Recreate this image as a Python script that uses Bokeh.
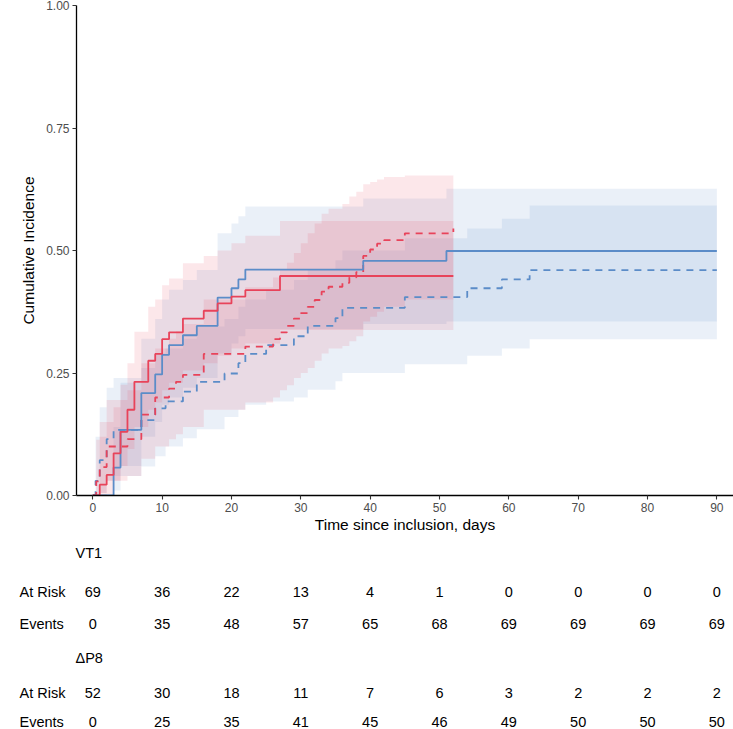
import numpy as np
from bokeh.plotting import figure
from bokeh.layouts import column
from bokeh.models import Range1d, NumeralTickFormatter, FixedTicker
from bokeh.embed import file_html
from bokeh.resources import INLINE
from bokeh.core.properties import value

# ---------------- data ----------------
# VT1, event 1 (solid red)
vt1_e1_t   = [0, 1, 2, 3, 4, 5, 6, 8, 9, 10, 11, 13, 16, 18, 20, 22, 27, 52]
vt1_e1_est = [0, .022, .042, .086, .130, .175, .232, .275, .289, .319, .333, .361, .377, .392, .406, .419, .448, .448]
vt1_e1_hi  = [0, .120, .150, .180, .226, .270, .334, .385, .400, .429, .443, .474, .489, .500, .515, .530, .560, .560]
vt1_e1_lo  = [0, 0, .003, .030, .060, .095, .140, .175, .190, .215, .230, .255, .270, .285, .300, .310, .338, .338]

# VT1, event 2 (dashed red)
vt1_e2_t   = [0, 0.5, 1, 2, 5, 7, 9, 11, 12, 13, 16, 22, 26, 27, 28, 29, 30, 31, 32, 33, 34, 36, 37, 38, 39, 40, 41, 42, 45, 52]
vt1_e2_est = [0, .029, .058, .100, .115, .165, .200, .218, .232, .246, .289, .304, .319, .333, .346, .361, .372, .385, .399, .416, .426, .434, .445, .456, .489, .502, .514, .521, .535, .545]
vt1_e2_hi  = [0, .114, .150, .195, .215, .270, .300, .320, .335, .350, .400, .425, .445, .460, .475, .495, .515, .535, .555, .575, .585, .595, .610, .620, .635, .640, .645, .650, .653, .653]
vt1_e2_lo  = [0, 0, .005, .030, .040, .075, .100, .115, .125, .140, .175, .190, .200, .215, .225, .240, .250, .260, .275, .290, .300, .305, .315, .325, .355, .365, .375, .385, .400, .410]

# dP8, event 1 (solid blue)
dp8_e1_t   = [0, 3, 4, 7, 9, 10, 11, 13, 15, 18, 20, 21, 22, 39, 51, 90]
dp8_e1_est = [0, .057, .134, .209, .247, .287, .307, .327, .346, .404, .423, .441, .461, .479, .499, .499]
dp8_e1_hi  = [0, .140, .230, .320, .360, .400, .420, .440, .460, .535, .555, .570, .590, .606, .626, .626]
dp8_e1_lo  = [0, .010, .060, .120, .150, .185, .200, .220, .240, .290, .310, .325, .340, .350, .355, .355]

# dP8, event 2 (dashed blue)
dp8_e2_t   = [0, 0.4, 1, 2, 3, 7, 9, 10.5, 13, 15, 19, 21, 22, 25, 29, 31, 35, 36, 45, 54, 59, 63, 90]
dp8_e2_est = [0, .030, .072, .115, .134, .154, .178, .192, .212, .232, .249, .270, .289, .307, .325, .346, .362, .383, .405, .423, .441, .460, .460]
dp8_e2_hi  = [0, .120, .180, .220, .240, .260, .290, .300, .320, .345, .360, .385, .400, .420, .440, .460, .480, .500, .525, .545, .565, .592, .592]
dp8_e2_lo  = [0, 0, .005, .030, .040, .059, .080, .100, .117, .135, .160, .175, .185, .192, .200, .216, .233, .250, .268, .285, .300, .319, .319]

# risk table
table_times   = [0, 10, 20, 30, 40, 50, 60, 70, 80, 90]
vt1_at_risk   = [69, 36, 22, 13, 4, 1, 0, 0, 0, 0]
vt1_events    = [0, 35, 48, 57, 65, 68, 69, 69, 69, 69]
dp8_at_risk   = [52, 30, 18, 11, 7, 6, 3, 2, 2, 2]
dp8_events    = [0, 25, 35, 41, 45, 46, 49, 50, 50, 50]
group_names   = ["VT1", "\u0394P8"]
row_names     = ["At Risk", "Events"]

# ---------------- style ----------------
RED = "#E8435A"
BLUE = "#5B8CC8"
FONT = "Liberation Sans"
BAND_ALPHA = 0.13

W = 733
H1 = 535
H2 = 194
LEFT = 76
X0, X1 = -2.35, 92.4

xr = Range1d(X0, X1)
p = figure(width=W, height=H1, output_backend="svg", toolbar_location=None,
           x_range=xr, y_range=Range1d(0, 1),
           min_border_left=LEFT, min_border_right=0, min_border_top=5, min_border_bottom=39)
p.outline_line_color = None
p.xgrid.visible = False
p.ygrid.visible = False
p.background_fill_color = "white"

def band(t, lo, hi, color):
    p.varea_step(x=t, y1=lo, y2=hi, step_mode="after", fill_color=color, fill_alpha=BAND_ALPHA)

band(dp8_e2_t, dp8_e2_lo, dp8_e2_hi, BLUE)
band(dp8_e1_t, dp8_e1_lo, dp8_e1_hi, BLUE)
band(vt1_e2_t, vt1_e2_lo, vt1_e2_hi, RED)
band(vt1_e1_t, vt1_e1_lo, vt1_e1_hi, RED)

p.step(dp8_e2_t, dp8_e2_est, mode="after", line_color=BLUE, line_width=1.8, line_dash="7 6")
p.step(vt1_e2_t, vt1_e2_est, mode="after", line_color=RED, line_width=1.8, line_dash="7 6")
p.step(dp8_e1_t, dp8_e1_est, mode="after", line_color=BLUE, line_width=1.8)
p.step(vt1_e1_t, vt1_e1_est, mode="after", line_color=RED, line_width=1.8)

for ax in (p.xaxis[0], p.yaxis[0]):
    ax.axis_line_color = "black"
    ax.axis_line_width = 1.3
    ax.major_tick_line_color = "#333333"
    ax.major_tick_line_width = 1.1
    ax.major_tick_out = 4
    ax.major_tick_in = 0
    ax.minor_tick_line_color = None
    ax.major_label_text_font = FONT
    ax.major_label_text_font_size = "12px"
    ax.major_label_text_color = "#4D4D4D"
    ax.axis_label_text_font = FONT
    ax.axis_label_text_font_size = "15.5px"
    ax.axis_label_text_font_style = "normal"
    ax.axis_label_text_color = "black"

p.xaxis.ticker = FixedTicker(ticks=table_times)
p.yaxis.ticker = FixedTicker(ticks=[0, 0.25, 0.5, 0.75, 1.0])
p.yaxis.formatter = NumeralTickFormatter(format="0.00")
p.xaxis.axis_label = "Time since inclusion, days"
p.yaxis.axis_label = "Cumulative Incidence"
p.xaxis.major_label_standoff = 3
p.xaxis.axis_label_standoff = 1
p.yaxis.major_label_standoff = 3
p.yaxis.axis_label_standoff = 6

# ---------------- risk table ----------------
px_per_day = (W - LEFT) / (X1 - X0)
q = figure(width=W, height=H2, output_backend="svg", toolbar_location=None,
           x_range=xr, y_range=Range1d(H2, 0),
           min_border_left=LEFT, min_border_right=0, min_border_top=0, min_border_bottom=0)
q.outline_line_color = None
q.xgrid.visible = False
q.ygrid.visible = False
q.xaxis.visible = False
q.yaxis.visible = False

row_y = {"g0": 17, "r0": 56, "e0": 88, "g1": 122, "r1": 157, "e1": 186}
label_x = X0 - (LEFT - 19) / px_per_day
group_x = X0 - (LEFT - 75) / px_per_day
TS = "14.5px"

def txt(xs, ys, texts, align):
    r = q.text(x=xs, y=ys, text=texts, text_font=value(FONT), text_font_size=TS,
               text_align=align, text_baseline="middle", text_color="black")
    r.level = "overlay"

for gi, (name, ar, ev) in enumerate([(group_names[0], vt1_at_risk, vt1_events),
                                     (group_names[1], dp8_at_risk, dp8_events)]):
    txt([group_x], [row_y[f"g{gi}"]], [name], "left")
    txt([label_x, label_x], [row_y[f"r{gi}"], row_y[f"e{gi}"]], row_names, "left")
    txt(table_times, [row_y[f"r{gi}"]] * len(table_times), [str(v) for v in ar], "center")
    txt(table_times, [row_y[f"e{gi}"]] * len(table_times), [str(v) for v in ev], "center")

layout = column(p, q, spacing=0)
open("out.html", "w").write(file_html(layout, INLINE))
